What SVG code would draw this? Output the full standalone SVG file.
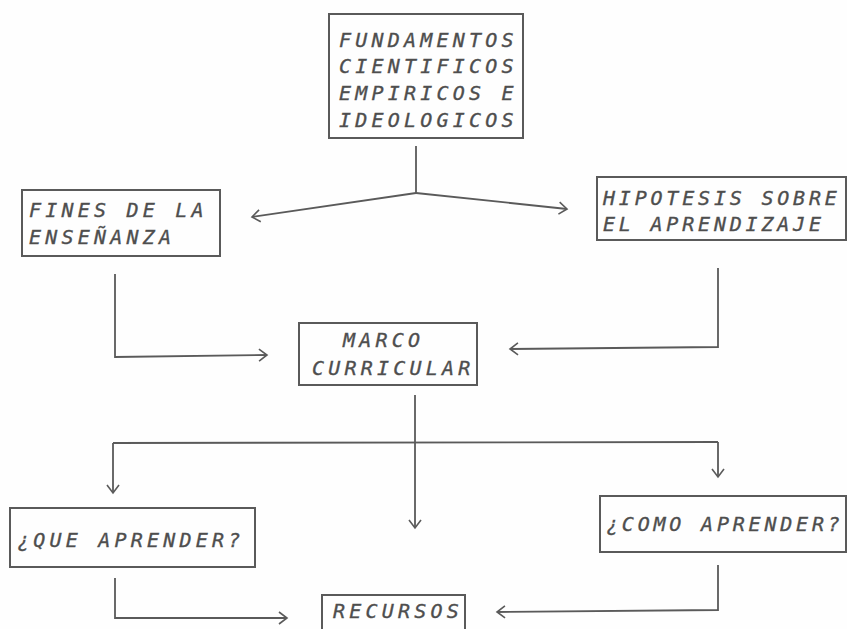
<svg xmlns="http://www.w3.org/2000/svg" width="847" height="629" viewBox="0 0 847 629">
<defs>
<style>
.box{fill:none;stroke:#5a5a5a;stroke-width:2}
.t{font-family:"DejaVu Sans Mono","Liberation Mono",monospace;font-style:italic;font-size:20px;letter-spacing:4.2px;fill:#4e4e4e;stroke:#4e4e4e;stroke-width:0.35}
.n{letter-spacing:3.8px}
.c{fill:none;stroke:#5a5a5a;stroke-width:1.8;stroke-linejoin:miter}
</style>
<marker id="ah" markerUnits="userSpaceOnUse" markerWidth="24" markerHeight="24" refX="0" refY="0" viewBox="-12 -12 24 24" orient="auto" overflow="visible">
<path d="M-8,-6 L0,0 L-8,6" fill="none" stroke="#5a5a5a" stroke-width="1.6"/>
</marker>
</defs>
<rect width="847" height="629" fill="#fefefe"/>
<g id="fundamentos">
<rect class="box" x="329" y="14" width="194" height="124"/>
<text class="t" x="339" y="47">FUNDAMENTOS</text>
<text class="t" x="339" y="73">CIENTIFICOS</text>
<text class="t" x="339" y="100">EMPIRICOS E</text>
<text class="t" x="339" y="127">IDEOLOGICOS</text>
</g>
<g id="fines">
<rect class="box" x="22" y="190" width="198" height="66"/>
<text class="t" x="29" y="217">FINES DE LA</text>
<text class="t" x="29" y="244">ENSEÑANZA</text>
</g>
<g id="hipotesis">
<rect class="box" x="597" y="177" width="249" height="63"/>
<text class="t n" x="603" y="205">HIPOTESIS SOBRE</text>
<text class="t n" x="603" y="231">EL APRENDIZAJE</text>
</g>
<g id="marco">
<rect class="box" x="299" y="323" width="178" height="62"/>
<text class="t" x="343" y="347">MARCO</text>
<text class="t" x="312" y="375">CURRICULAR</text>
</g>
<g id="que">
<rect class="box" x="10" y="508" width="245" height="59"/>
<text class="t" x="17" y="547">¿QUE APRENDER?</text>
</g>
<g id="como">
<rect class="box" x="600" y="496" width="246" height="56"/>
<text class="t n" x="606" y="531">¿COMO APRENDER?</text>
</g>
<g id="recursos">
<rect class="box" x="322" y="595" width="143" height="45"/>
<text class="t" x="333" y="618">RECURSOS</text>
</g>
<g id="connectors">
<path class="c" d="M416,146 L416,193"/>
<path class="c" d="M416,193 L252,217" marker-end="url(#ah)"/>
<path class="c" d="M416,193 L567,209" marker-end="url(#ah)"/>
<path class="c" d="M115,274 L115,357 L267,355" marker-end="url(#ah)"/>
<path class="c" d="M718,268 L718,347 L510,349" marker-end="url(#ah)"/>
<path class="c" d="M415,395 L415,528" marker-end="url(#ah)"/>
<path class="c" d="M113,443 L718,442"/>
<path class="c" d="M113,443 L113,493" marker-end="url(#ah)"/>
<path class="c" d="M718,442 L718,477" marker-end="url(#ah)"/>
<path class="c" d="M115,578 L115,618 L287,618" marker-end="url(#ah)"/>
<path class="c" d="M718,565 L718,610 L497,612" marker-end="url(#ah)"/>
</g>
</svg>
